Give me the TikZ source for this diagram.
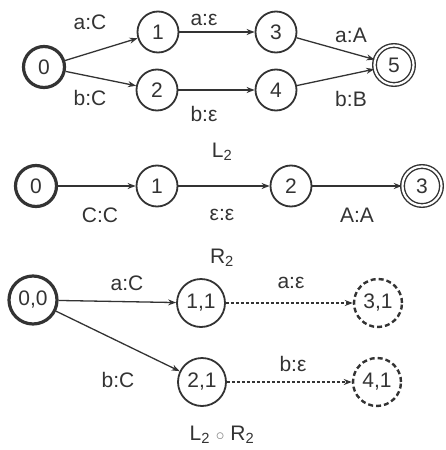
\documentclass[tikz,border=0pt]{standalone}
\usepackage{fontspec}
\setmainfont{Liberation Sans}
\usetikzlibrary{arrows.meta}
\definecolor{ink}{HTML}{333333}
\begin{document}
\begin{tikzpicture}[x=1pt,y=-1pt,
  every node/.style={text=ink},
  st/.style={circle,draw=ink,line width=1.8pt,minimum size=41pt,inner sep=0pt,font=\fontsize{21}{23}\selectfont},
  bigst/.style={st,minimum size=48pt},
  init/.style={line width=3.2pt},
  acc/.style={double=white,double distance=2.2pt,line width=1.4pt},
  ghost/.style={dash pattern=on 5pt off 3pt,line width=2.4pt},
  lab/.style={font=\fontsize{21}{23}\selectfont,inner sep=1pt},
  edge/.style={draw=ink,line width=1.3pt,-{Stealth[length=8pt,width=6pt]}},
  dedge/.style={edge,dash pattern=on 3pt off 2pt}]
\useasboundingbox (0,0) rectangle (446,450);

% L2
\node[st,init] (a0) at (44,67) {0};
\node[st] (a1) at (158,32) {1};
\node[st] (a2) at (157,90) {2};
\node[st] (a3) at (276,32) {3};
\node[st] (a4) at (276,90) {4};
\node[st,acc,minimum size=39pt] (a5) at (394,65) {5};
\draw[edge] (a0) -- (a1);
\draw[edge] (a0) -- (a2);
\draw[edge] (a1) -- (a3);
\draw[edge] (a2) -- (a4);
\draw[edge] (a3) -- (a5);
\draw[edge] (a4) -- (a5);
\node[lab] (la01) at (90,22) {a:C};
\node[lab] (la02) at (90,98) {b:C};
\node[lab] (la13) at (204,20) {a:ε};
\node[lab] (la24) at (204,114) {b:ε};
\node[lab] (la35) at (351,35) {a:A};
\node[lab] (la45) at (351,99) {b:B};
\node[lab] (capL) at (222,152) {L\textsubscript{2}};

% R2
\node[st,init] (b0) at (36,186) {0};
\node[st] (b1) at (157,186) {1};
\node[st] (b2) at (291,186) {2};
\node[st,acc,minimum size=39pt] (b3) at (422,186) {3};
\draw[edge] (b0) -- (b1);
\draw[edge] (b1) -- (b2);
\draw[edge] (b2) -- (b3);
\node[lab] (lb01) at (100,215) {C:C};
\node[lab] (lb12) at (222,215) {ε:ε};
\node[lab] (lb23) at (357,215) {A:A};
\node[lab] (capR) at (222,258) {R\textsubscript{2}};

% L2 o R2
\node[bigst,init] (c00) at (33,300) {0,0};
\node[bigst] (c11) at (201,303) {1,1};
\node[bigst,ghost] (c31) at (378,303) {3,1};
\node[bigst] (c21) at (202,382) {2,1};
\node[bigst,ghost] (c41) at (377,382) {4,1};
\draw[edge] (c00) -- (c11);
\draw[edge] (c00) -- (c21);
\draw[dedge] (c11) -- (c31);
\draw[dedge] (c21) -- (c41);
\node[lab] (lc1) at (127,283) {a:C};
\node[lab] (lc2) at (291,283) {a:ε};
\node[lab] (lc3) at (118,380) {b:C};
\node[lab] (lc4) at (293,364) {b:ε};
\node[lab] (capLR) at (222,435) {L\textsubscript{2} {\color{gray}\fontsize{16}{16}\selectfont$\circ$} R\textsubscript{2}};
\end{tikzpicture}
\end{document}
